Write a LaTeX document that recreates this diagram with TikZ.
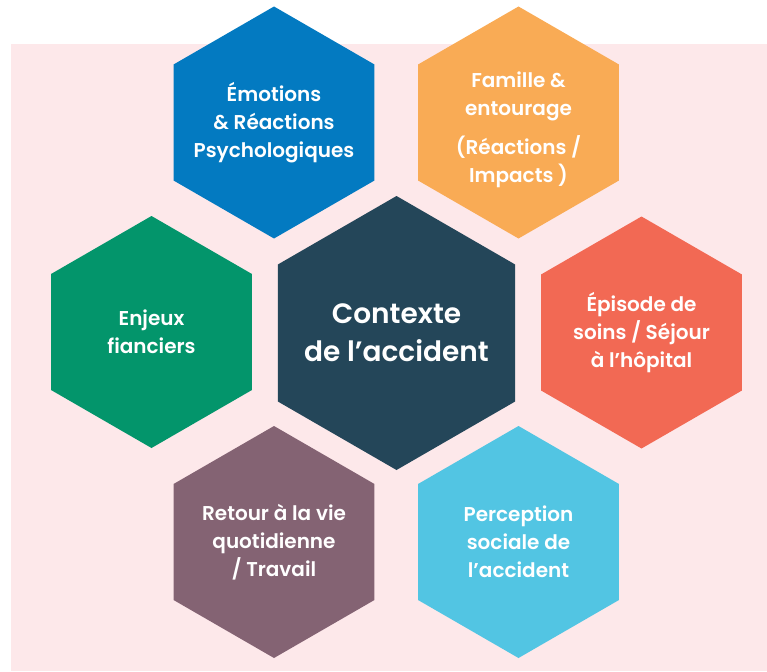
\documentclass[tikz,border=0pt]{standalone}
\usepackage{fontspec}
\setmainfont{Poppins}[BoldFont={Poppins SemiBold}]
\usetikzlibrary{shapes.geometric}
\definecolor{BgPink}{HTML}{FDE8EA}
\definecolor{CoreNavy}{HTML}{244659}
\definecolor{EmoBlue}{HTML}{037AC1}
\definecolor{FamOrange}{HTML}{F9AB55}
\definecolor{SoinRed}{HTML}{F26954}
\definecolor{SocialCyan}{HTML}{52C5E3}
\definecolor{WorkPlum}{HTML}{846373}
\definecolor{MoneyGreen}{HTML}{03956B}
\tikzset{
  hexcell/.style={regular polygon, regular polygon sides=6, shape border rotate=30,
    minimum size=232pt, inner sep=-30pt, outer sep=0pt, text=white, align=center,
    font=\bfseries\fontsize{20}{28}\selectfont},
  hexcore/.style={hexcell, minimum size=274pt, font=\bfseries\fontsize{28}{38}\selectfont}
}
\begin{document}
\begin{tikzpicture}[x=1pt, y=-1pt]
  \useasboundingbox (0,0) rectangle (767,671);

  % Background panel
  \fill[BgPink] (11,44) rectangle (767,671);

  % Centre
  \node[hexcore, fill=CoreNavy] (contexte) at (396.5,333) {Contexte\\de l’accident};

  % Surrounding themes
  \node[hexcell, fill=EmoBlue] (emotions) at (274,122.5) {Émotions\\\& Réactions\\Psychologiques};
  \node[hexcell, fill=FamOrange] (famille) at (518.5,122.5) {\rule{0pt}{30pt}Famille \&\\entourage\\[11pt](Réactions /\\Impacts )};
  \node[hexcell, fill=SoinRed] (soins) at (641.5,332.5) {Épisode de\\soins / Séjour\\à l’hôpital};
  \node[hexcell, fill=SocialCyan] (perception) at (518.5,542) {Perception\\sociale de\\l’accident};
  \node[hexcell, fill=WorkPlum] (retour) at (274,542) {Retour à la vie\\quotidienne\\/ Travail};
  \node[hexcell, fill=MoneyGreen] (enjeux) at (151.5,332) {Enjeux\\fianciers};
\end{tikzpicture}
\end{document}
